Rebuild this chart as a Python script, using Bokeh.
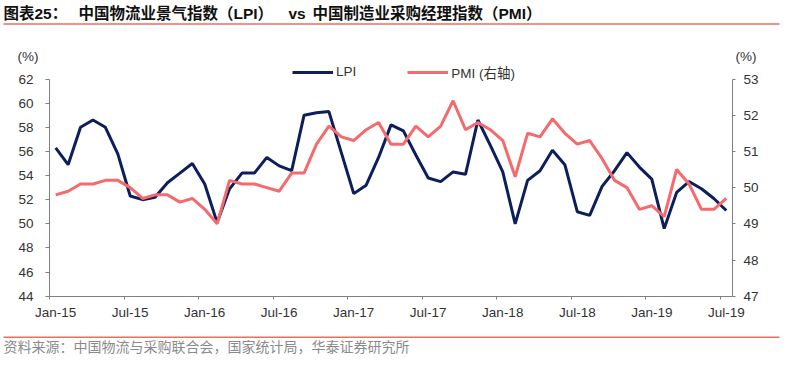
from bokeh.plotting import figure
from bokeh.models import (Range1d, LinearAxis, FixedTicker, Label, Legend,
                          LegendItem, BoxAnnotation, ColumnDataSource)
from bokeh.embed import file_html
from bokeh.resources import INLINE

# ---------------- data ----------------
lpi = [56.3, 54.9, 58.0, 58.6, 58.0, 55.8, 52.3, 52.0, 52.2, 53.4, 54.2, 55.0,
       53.3, 50.1, 52.9, 54.2, 54.2, 55.5, 54.8, 54.4, 59.0, 59.2, 59.3, 55.9,
       52.5, 53.2, 55.5, 58.2, 57.7, 55.7, 53.8, 53.5, 54.3, 54.1, 58.6, 56.5,
       54.3, 50.0, 53.6, 54.4, 56.1, 54.9, 51.0, 50.7, 53.1, 54.4, 55.9, 54.7,
       53.7, 49.6, 52.6, 53.5, 52.9, 52.1, 51.1]
pmi = [49.8, 49.9, 50.1, 50.1, 50.2, 50.2, 50.0, 49.7, 49.8, 49.8, 49.6, 49.7,
       49.4, 49.0, 50.2, 50.1, 50.1, 50.0, 49.9, 50.4, 50.4, 51.2, 51.7, 51.4,
       51.3, 51.6, 51.8, 51.2, 51.2, 51.7, 51.4, 51.7, 52.4, 51.6, 51.8, 51.6,
       51.3, 50.3, 51.5, 51.4, 51.9, 51.5, 51.2, 51.3, 50.8, 50.2, 50.0, 49.4,
       49.5, 49.2, 50.5, 50.1, 49.4, 49.4, 49.7]
tick_labels = ["Jan-15", "Jul-15", "Jan-16", "Jul-16", "Jan-17", "Jul-17",
               "Jan-18", "Jul-18", "Jan-19", "Jul-19"]
left_ticks = [44, 46, 48, 50, 52, 54, 56, 58, 60, 62]
right_ticks = [47, 48, 49, 50, 51, 52, 53]

title_parts = ["图表25：", "中国物流业景气指数（LPI）", "vs", "中国制造业采购经理指数（PMI）"]
source_text = "资料来源：中国物流与采购联合会，国家统计局，华泰证券研究所"

# ---------------- styles / layout ----------------
LPI_COLOR = "#0c1f5c"
PMI_COLOR = "#f56a6c"
RED_RULE = "#e4705f"
AXIS_COLOR = "#7f7f7f"
TEXT_COLOR = "#333333"
LATIN = "Liberation Sans, Noto Sans CJK SC"
CJK = "Noto Sans CJK SC"

W, H = 801, 370
PL, PR, PT, PB = 49.0, 732.0, 78.5, 295.7   # plot-area edges in pixels

n = len(lpi)
ymin_l, ymax_l = left_ticks[0], left_ticks[-1]
ymin_r, ymax_r = right_ticks[0], right_ticks[-1]
sx = (PR - PL) / n
sy_l = (PB - PT) / (ymax_l - ymin_l)
sy_r = (PB - PT) / (ymax_r - ymin_r)
x_range = Range1d(-0.5 - PL / sx, -0.5 + (W - PL) / sx)
y_range = Range1d(ymin_l - (H - PB) / sy_l, ymax_l + PT / sy_l)
y_range_r = Range1d(ymin_r - (H - PB) / sy_r, ymax_r + PT / sy_r)

x = list(range(n))
src = ColumnDataSource(dict(x=x, lpi=lpi, pmi=pmi))

p = figure(width=W, height=H, output_backend="svg", toolbar_location=None,
           x_range=x_range, y_range=y_range, min_border=0,
           min_border_left=0, min_border_right=0, min_border_top=0,
           min_border_bottom=0, x_axis_location=None, y_axis_location=None)
p.outline_line_color = None
p.xgrid.visible = False
p.ygrid.visible = False
p.background_fill_color = "white"
p.border_fill_color = "white"
p.extra_y_ranges = {"pmi": y_range_r}

# ---- axes (fixed at the plot-area edges) ----
xticks = list(range(0, n, 6))
xminor = [t - 0.5 for t in xticks]
xaxis = LinearAxis(ticker=FixedTicker(ticks=xticks, minor_ticks=xminor),
                   major_label_overrides={t: lab for t, lab in zip(xticks, tick_labels)},
                   fixed_location=ymin_l, bounds=(-0.5, n - 0.5))
xaxis.axis_line_color = AXIS_COLOR
xaxis.major_tick_out = 0
xaxis.major_tick_in = 0
xaxis.minor_tick_out = 3
xaxis.minor_tick_in = 0
xaxis.minor_tick_line_color = AXIS_COLOR
xaxis.major_label_standoff = 6
xaxis.major_label_text_font = LATIN
xaxis.major_label_text_font_size = "13.5px"
xaxis.major_label_text_color = TEXT_COLOR
p.add_layout(xaxis, "below")

yl = LinearAxis(ticker=FixedTicker(ticks=left_ticks), fixed_location=-0.5,
                bounds=(ymin_l, ymax_l))
yr = LinearAxis(ticker=FixedTicker(ticks=right_ticks), y_range_name="pmi",
                fixed_location=n - 0.5, bounds=(ymin_r, ymax_r))
for ax, standoff, tick in ((yl, 12, 4), (yr, 8, 3)):
    ax.axis_line_color = AXIS_COLOR
    ax.major_tick_line_color = AXIS_COLOR
    ax.major_tick_out = tick
    ax.major_tick_in = 0
    ax.minor_tick_line_color = None
    ax.major_label_standoff = standoff
    ax.major_label_text_font = LATIN
    ax.major_label_text_font_size = "13.5px"
    ax.major_label_text_color = TEXT_COLOR
p.add_layout(yl, "left")
p.add_layout(yr, "right")

# ---- lines ----
r1 = p.line("x", "lpi", source=src, line_color=LPI_COLOR, line_width=3)
r2 = p.line("x", "pmi", source=src, line_color=PMI_COLOR, line_width=3,
            y_range_name="pmi")

legend = Legend(items=[LegendItem(label="LPI", renderers=[r1]),
                       LegendItem(label="PMI (右轴)", renderers=[r2])],
                orientation="horizontal", location=(292, H - 81.7),
                padding=0, margin=0, border_line_color=None,
                background_fill_alpha=0, glyph_width=41, glyph_height=16,
                label_standoff=3, spacing=51, label_height=16,
                label_text_font=LATIN, label_text_font_size="13.5px",
                label_text_color=TEXT_COLOR)
p.add_layout(legend, "center")


# ---- texts (screen units; frame == whole canvas) ----
def put(text, xr, yr_, size, color, font=LATIN, style="normal", align="left"):
    p.add_layout(Label(x=xr, y=H - yr_, x_units="screen", y_units="screen",
                       text=text, text_font=font, text_font_size=size,
                       text_color=color, text_font_style=style,
                       text_align=align, text_baseline="middle"))


title_x = [3, 78, 288, 312]
for part, tx in zip(title_parts, title_x):
    put(part, tx, 12.8, "15.5px", "#111111", style="bold")

put("(%)", 17, 56, "13.5px", TEXT_COLOR)
put("(%)", 735, 56, "13.5px", TEXT_COLOR)
put(source_text, 3, 345, "14px", "#8a8a8a", font=CJK)

for yline in (23.5, 336.7):
    p.add_layout(BoxAnnotation(left=3, right=779,
                               top=H - yline + 0.8, bottom=H - yline - 0.8,
                               left_units="screen", right_units="screen",
                               top_units="screen", bottom_units="screen",
                               fill_color=RED_RULE, fill_alpha=1,
                               line_color=None))

open("out.html", "w").write(file_html(p, INLINE))
